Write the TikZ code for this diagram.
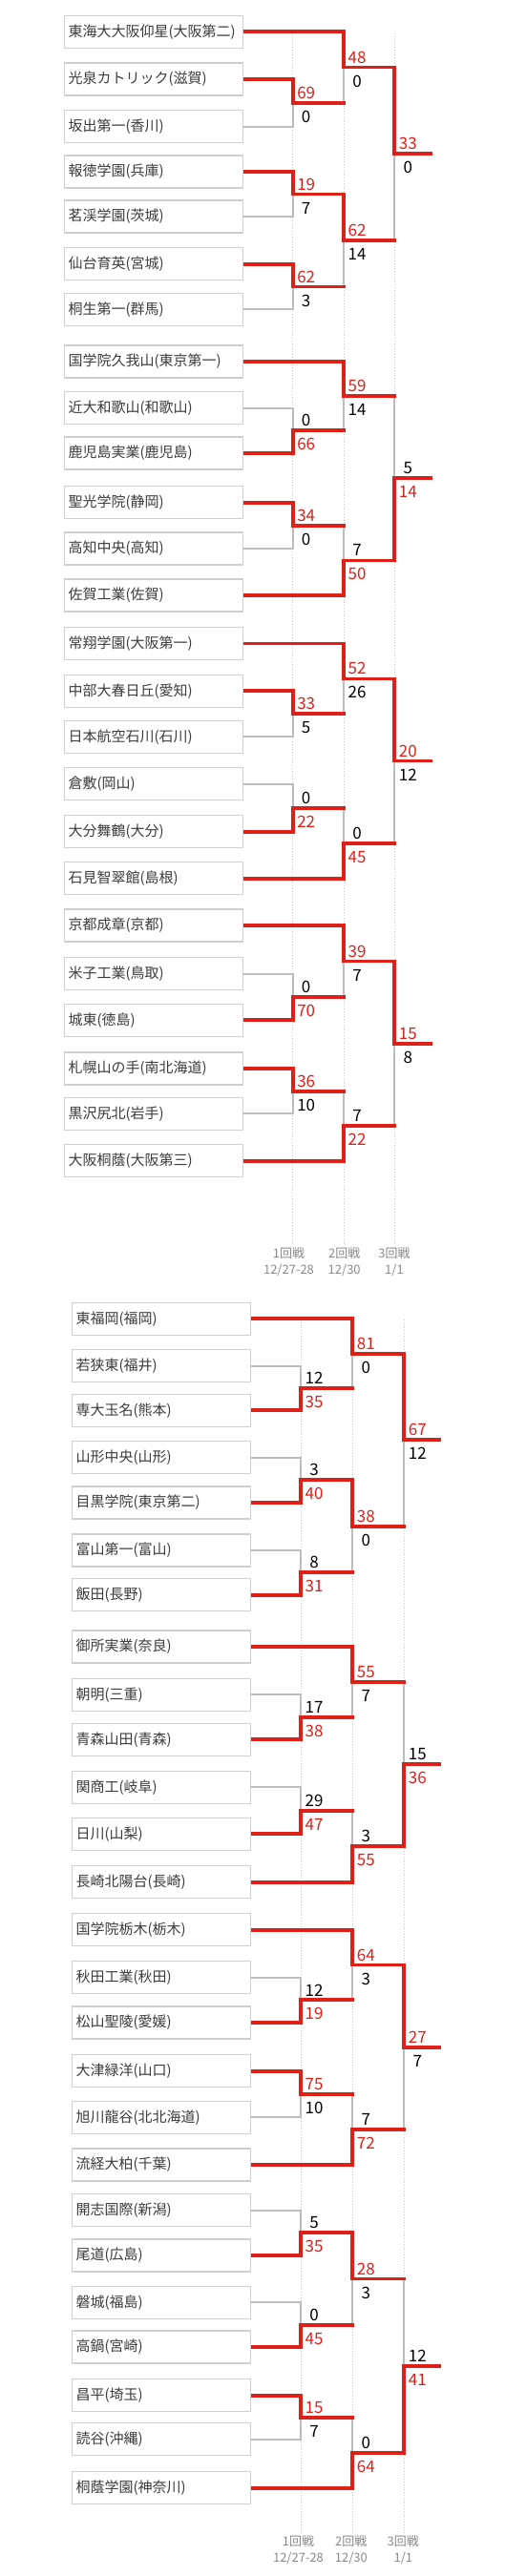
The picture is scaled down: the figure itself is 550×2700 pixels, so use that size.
\documentclass[tikz,border=0pt]{standalone}
\usepackage{fontspec}
\setmainfont{Noto Sans CJK JP}
\usetikzlibrary{calc}
\definecolor{wred}{HTML}{DF2019}
\definecolor{lgray}{HTML}{BDBDBD}
\definecolor{bxgray}{HTML}{CFCFCF}
\definecolor{txt}{HTML}{3C3C3C}
\definecolor{gridc}{HTML}{C8C8C8}
\definecolor{lbl}{HTML}{8A8A8A}
\pgfdeclarelayer{back}
\pgfdeclarelayer{grid}
\pgfdeclarelayer{lose}
\pgfdeclarelayer{win}
\pgfsetlayers{back,grid,lose,win,main}
\tikzset{
  team/.style={draw=bxgray, line width=1.3pt, fill=white, minimum width=186.7pt,
    minimum height=34pt, text width=178.7pt, inner xsep=4pt, inner ysep=0pt,
    align=left, anchor=west, font=\fontsize{15}{17}\selectfont, text=txt},
  winline/.style={draw=wred, line width=3.8pt, line join=miter, line cap=rect},
  loseline/.style={draw=lgray, line width=2pt, line join=miter},
  wsc/.style={text=wred, font=\fontsize{17}{18}\selectfont, inner sep=0pt},
  lsc/.style={text=black, font=\fontsize{17}{18}\selectfont, inner sep=0pt},
  guide/.style={draw=gridc, line width=0.8pt, dotted},
  rlabel/.style={text=lbl, font=\fontsize{13}{17.4}\selectfont, inner sep=0pt, align=center}
}
% #1 match, #2 top entrant, #3 bottom entrant, #4 vertical x, #5 next x, #6 top score, #7 bottom score
\newcommand{\winT}[7]{%
  \coordinate (#1h) at ($(#2)!0.5!(#3)$);
  \coordinate (#1) at (#1h -| #4);
  \coordinate (#1o) at ($(#1h -| #5)+(-0.05,0)$);
  \begin{pgfonlayer}{lose}\draw[loseline] (#3) -| (#1);\end{pgfonlayer}
  \begin{pgfonlayer}{win}\draw[winline] (#2) -| (#1) -- (#1o);\end{pgfonlayer}
  \node[wsc] (#1s) at ($(#1)+(14,-10.5)$) {#6};
  \node[lsc] (#1r) at ($(#1)+(14,14.5)$) {#7};
}
\newcommand{\winB}[7]{%
  \coordinate (#1h) at ($(#2)!0.5!(#3)$);
  \coordinate (#1) at (#1h -| #4);
  \coordinate (#1o) at ($(#1h -| #5)+(-0.05,0)$);
  \begin{pgfonlayer}{lose}\draw[loseline] (#2) -| (#1);\end{pgfonlayer}
  \begin{pgfonlayer}{win}\draw[winline] (#3) -| (#1) -- (#1o);\end{pgfonlayer}
  \node[lsc] (#1s) at ($(#1)+(14,-10.5)$) {#6};
  \node[wsc] (#1r) at ($(#1)+(14,14.5)$) {#7};
}
\begin{document}
\begin{tikzpicture}[x=1pt,y=-1pt]
\begin{pgfonlayer}{back}
\fill[white] (0,0) rectangle (550,2700);
\end{pgfonlayer}
\useasboundingbox (0,0) rectangle (550,2700);

\coordinate (TX1) at (306.7,0); \coordinate (TX2) at (360,0);
\coordinate (TX3) at (413.3,0); \coordinate (TXE) at (450.8,0);
\coordinate (BX1) at (315,0); \coordinate (BX2) at (369.3,0);
\coordinate (BX3) at (423.3,0); \coordinate (BXE) at (459.8,0);

% guide lines
\begin{pgfonlayer}{grid}
\foreach \xx in {306.7,360,413.3} \draw[guide] (\xx,35) -- (\xx,1305);
\foreach \xx in {315,369.3,423.3} \draw[guide] (\xx,1383) -- (\xx,2655);
\end{pgfonlayer}

% top teams
\foreach \yy/\nm [count=\i] in {
 33.3/東海大大阪仰星(大阪第二), 83/光泉カトリック(滋賀), 132.7/坂出第一(香川),
 180/報徳学園(兵庫), 227/茗渓学園(茨城), 276.7/仙台育英(宮城), 324.3/桐生第一(群馬),
 379/国学院久我山(東京第一), 427.7/近大和歌山(和歌山), 475/鹿児島実業(鹿児島),
 526.7/聖光学院(静岡), 575/高知中央(高知), 624/佐賀工業(佐賀),
 674.5/常翔学園(大阪第一), 724.3/中部大春日丘(愛知), 772.3/日本航空石川(石川),
 821.7/倉敷(岡山), 871.7/大分舞鶴(大分), 920.7/石見智翠館(島根),
 970/京都成章(京都), 1020.7/米子工業(鳥取), 1069.3/城東(徳島),
 1120/札幌山の手(南北海道), 1167.3/黒沢尻北(岩手), 1216.7/大阪桐蔭(大阪第三)}
 {\node[team] (t\i) at (67,\yy) {\mbox{\nm}};}

% bottom teams
\foreach \yy/\nm [count=\i] in {
 1382.3/東福岡(福岡), 1431.7/若狭東(福井), 1478.3/専大玉名(熊本),
 1527.7/山形中央(山形), 1575/目黒学院(東京第二), 1625/富山第一(富山), 1671.7/飯田(長野),
 1726/御所実業(奈良), 1776.3/朝明(三重), 1823.3/青森山田(青森),
 1873.3/関商工(岐阜), 1922.3/日川(山梨), 1972.7/長崎北陽台(長崎),
 2022.7/国学院栃木(栃木), 2072.7/秋田工業(秋田), 2120/松山聖陵(愛媛),
 2170.7/大津緑洋(山口), 2219.3/旭川龍谷(北北海道), 2269/流経大柏(千葉),
 2316.7/開志国際(新潟), 2364/尾道(広島), 2413.3/磐城(福島), 2460/高鍋(宮崎),
 2510.7/昌平(埼玉), 2556.7/読谷(沖縄), 2607.7/桐蔭学園(神奈川)}
 {\node[team] (s\i) at (75,\yy) {\mbox{\nm}};}

% ---- top bracket ----
\winT{a1}{t2.east}{t3.east}{TX1}{TX2}{69}{0}
\winT{a2}{t4.east}{t5.east}{TX1}{TX2}{19}{7}
\winT{a3}{t6.east}{t7.east}{TX1}{TX2}{62}{3}
\winT{a4}{t1.east}{a1o}{TX2}{TX3}{48}{0}
\winT{a5}{a2o}{a3o}{TX2}{TX3}{62}{14}
\winT{a6}{a4o}{a5o}{TX3}{TXE}{33}{0}

\winB{b1}{t9.east}{t10.east}{TX1}{TX2}{0}{66}
\winT{b2}{t11.east}{t12.east}{TX1}{TX2}{34}{0}
\winT{b3}{t8.east}{b1o}{TX2}{TX3}{59}{14}
\winB{b4}{b2o}{t13.east}{TX2}{TX3}{7}{50}
\winB{b5}{b3o}{b4o}{TX3}{TXE}{5}{14}

\winT{c1}{t15.east}{t16.east}{TX1}{TX2}{33}{5}
\winB{c2}{t17.east}{t18.east}{TX1}{TX2}{0}{22}
\winT{c3}{t14.east}{c1o}{TX2}{TX3}{52}{26}
\winB{c4}{c2o}{t19.east}{TX2}{TX3}{0}{45}
\winT{c5}{c3o}{c4o}{TX3}{TXE}{20}{12}

\winB{d1}{t21.east}{t22.east}{TX1}{TX2}{0}{70}
\winT{d2}{t23.east}{t24.east}{TX1}{TX2}{36}{10}
\winT{d3}{t20.east}{d1o}{TX2}{TX3}{39}{7}
\winB{d4}{d2o}{t25.east}{TX2}{TX3}{7}{22}
\winT{d5}{d3o}{d4o}{TX3}{TXE}{15}{8}

% ---- bottom bracket ----
\winB{e1}{s2.east}{s3.east}{BX1}{BX2}{12}{35}
\winB{e2}{s4.east}{s5.east}{BX1}{BX2}{3}{40}
\winB{e3}{s6.east}{s7.east}{BX1}{BX2}{8}{31}
\winT{e4}{s1.east}{e1o}{BX2}{BX3}{81}{0}
\winT{e5}{e2o}{e3o}{BX2}{BX3}{38}{0}
\winT{e6}{e4o}{e5o}{BX3}{BXE}{67}{12}

\winB{f1}{s9.east}{s10.east}{BX1}{BX2}{17}{38}
\winB{f2}{s11.east}{s12.east}{BX1}{BX2}{29}{47}
\winT{f3}{s8.east}{f1o}{BX2}{BX3}{55}{7}
\winB{f4}{f2o}{s13.east}{BX2}{BX3}{3}{55}
\winB{f5}{f3o}{f4o}{BX3}{BXE}{15}{36}

\winB{g1}{s15.east}{s16.east}{BX1}{BX2}{12}{19}
\winT{g2}{s17.east}{s18.east}{BX1}{BX2}{75}{10}
\winT{g3}{s14.east}{g1o}{BX2}{BX3}{64}{3}
\winB{g4}{g2o}{s19.east}{BX2}{BX3}{7}{72}
\winT{g5}{g3o}{g4o}{BX3}{BXE}{27}{7}

\winB{h1}{s20.east}{s21.east}{BX1}{BX2}{5}{35}
\winB{h2}{s22.east}{s23.east}{BX1}{BX2}{0}{45}
\winT{h3}{s24.east}{s25.east}{BX1}{BX2}{15}{7}
\winT{h4}{h1o}{h2o}{BX2}{BX3}{28}{3}
\winB{h5}{h3o}{s26.east}{BX2}{BX3}{0}{64}
\winB{h6}{h4o}{h5o}{BX3}{BXE}{12}{41}

% round labels
\node[rlabel] (tl1) at (302.5,1323) {1回戦\\12/27-28};
\node[rlabel] (tl2) at (360.7,1323) {2回戦\\12/30};
\node[rlabel] (tl3) at (413,1323) {3回戦\\1/1};
\node[rlabel] (bl1) at (312.5,2672.5) {1回戦\\12/27-28};
\node[rlabel] (bl2) at (367.8,2672.5) {2回戦\\12/30};
\node[rlabel] (bl3) at (422.3,2672.5) {3回戦\\1/1};
\end{tikzpicture}
\end{document}
